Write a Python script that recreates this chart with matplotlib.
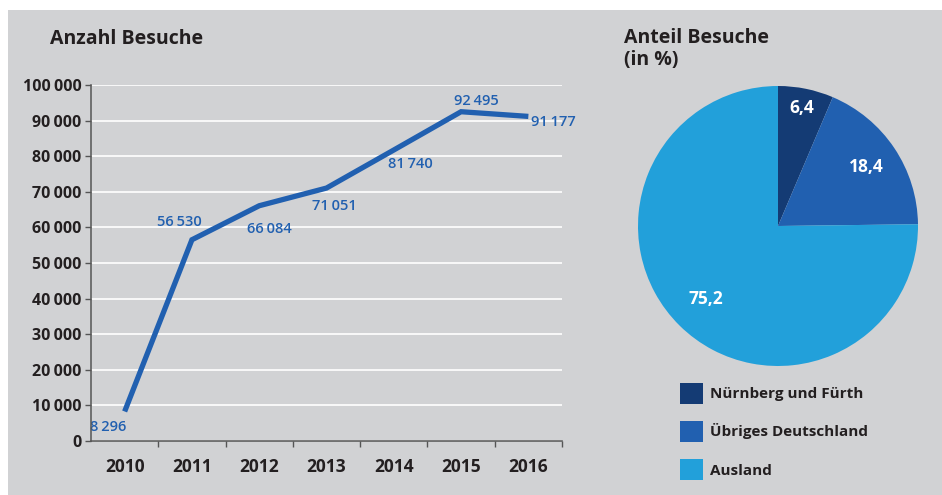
import matplotlib

matplotlib.use("Agg")

import matplotlib.pyplot as plt
import numpy as np
from matplotlib.patches import Patch, Rectangle

plt.rcParams["font.family"] = ["Open Sans", "DejaVu Sans"]

# data
years = ["2010", "2011", "2012", "2013", "2014", "2015", "2016"]
visits = [8296, 56530, 66084, 71051, 81740, 92495, 91177]
# label offsets in points (dx, dy) relative to each point
label_offsets = [(-12, -11), (-9, 13), (7, -17), (6, -13), (12, -10), (11, 8), (18, -4)]

shares = [6.4, 18.4, 75.2]
share_names = ["Nürnberg und Fürth", "Übriges Deutschland", "Ausland"]
share_colors = ["#143b74", "#2160b0", "#22a0da"]
share_label_dist = [0.86, 0.76, 0.73]

BG = "#d1d2d4"
LINE = "#2160b0"
TXT = "#231f20"
W, H = 942, 495


def fmt(v):
    return f"{v:,}".replace(",", "\u2009")


fig = plt.figure(figsize=(W / 100, H / 100), dpi=100)
fig.patches.append(Rectangle((8 / W, 0), 1 - 8 / W, 1 - 10 / H, transform=fig.transFigure,
                             facecolor=BG, edgecolor="none", zorder=-10))

# ---- line chart
ax = fig.add_axes([91 / W, (H - 441) / H, 471 / W, 356 / H])
ax.patch.set_alpha(0)
x = list(range(len(years)))
ax.plot(x, visits, color=LINE, lw=3.8, solid_joinstyle="miter", solid_capstyle="butt", zorder=3)
for xi, v, (dx, dy) in zip(x, visits, label_offsets):
    ax.annotate(fmt(v), (xi, v), xytext=(dx, dy), textcoords="offset points",
                ha="center", va="center", color=LINE, fontsize=10.5, fontweight="semibold")
ax.set_xlim(-0.5, len(years) - 0.5)
ax.set_ylim(0, 100000)
ax.set_yticks(range(0, 100001, 10000))
ax.set_yticklabels([fmt(v) for v in range(0, 100001, 10000)], fontsize=11.5,
                   fontweight="bold", color=TXT)
ax.set_xticks(x)
ax.set_xticklabels(years, fontsize=12.5, fontweight="bold", color=TXT)
ax.set_xticks([i - 0.5 for i in range(1, len(years) + 1)], minor=True)
ax.tick_params(axis="x", which="major", length=0, pad=12)
ax.tick_params(axis="x", which="minor", length=4, width=1, color="#555555")
ax.tick_params(axis="y", length=4, width=1, color="#555555", pad=3)
ax.grid(axis="y", color="white", lw=1.2)
for s in ["top", "right"]:
    ax.spines[s].set_visible(False)
for s in ["left", "bottom"]:
    ax.spines[s].set_color("#555555")
    ax.spines[s].set_linewidth(1.1)
    ax.spines[s].set_zorder(4)
ax.set_axisbelow(True)

fig.text(50 / W, 1 - 44 / H, "Anzahl Besuche", fontsize=14, fontweight="bold", color=TXT,
         va="baseline")

# ---- pie chart
pax = fig.add_axes([638 / W, (H - 366) / H, 280 / W, 280 / H])
wedges, _ = pax.pie(shares, colors=share_colors, startangle=90, counterclock=False,
                    radius=1, wedgeprops=dict(linewidth=0))
for w, v, d in zip(wedges, shares, share_label_dist):
    ang = np.deg2rad((w.theta1 + w.theta2) / 2)
    pax.text(d * np.cos(ang), d * np.sin(ang), f"{v:.1f}".replace(".", ","),
             ha="center", va="center", color="white", fontsize=12.5, fontweight="bold")
pax.set_xlim(-1, 1)
pax.set_ylim(-1, 1)
pax.set_aspect("equal")

fig.text(624 / W, 1 - 43 / H, "Anteil Besuche", fontsize=14, fontweight="bold",
         color=TXT, va="baseline")
fig.text(624 / W, 1 - 65 / H, "(in %)", fontsize=14, fontweight="bold",
         color=TXT, va="baseline")

handles = [Patch(facecolor=c, edgecolor="none") for c in share_colors]
leg = fig.legend(handles, share_names, loc="upper left", bbox_to_anchor=(666 / W, 1 - 369 / H),
                 frameon=False, fontsize=11, handlelength=1.55, handleheight=1.75,
                 labelspacing=1.12, handletextpad=0.45)
for t in leg.get_texts():
    t.set_fontweight("bold")
    t.set_color(TXT)

fig.savefig("out.png", dpi=100, facecolor="white")
